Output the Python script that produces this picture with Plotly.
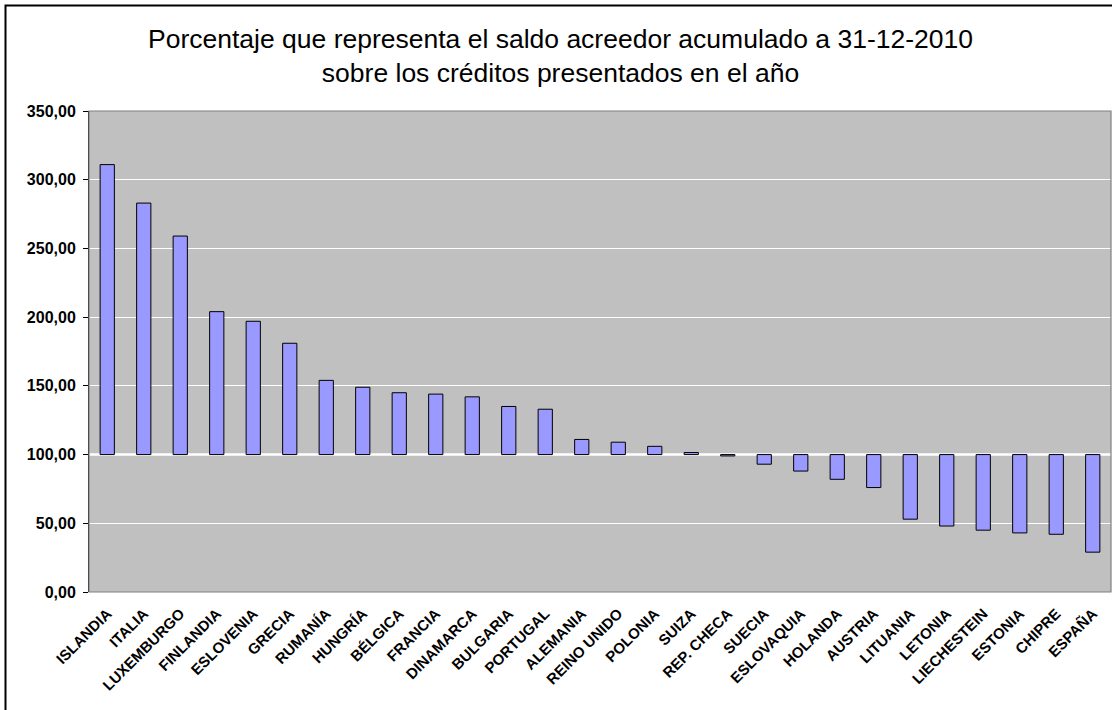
import plotly.graph_objects as go

# Saldo acreedor acumulado / créditos presentados (%), por país
paises = [
    "ISLANDIA", "ITALIA", "LUXEMBURGO", "FINLANDIA", "ESLOVENIA", "GRECIA",
    "RUMANÍA", "HUNGRÍA", "BÉLGICA", "FRANCIA", "DINAMARCA", "BULGARIA",
    "PORTUGAL", "ALEMANIA", "REINO UNIDO", "POLONIA", "SUIZA", "REP. CHECA",
    "SUECIA", "ESLOVAQUIA", "HOLANDA", "AUSTRIA", "LITUANIA", "LETONIA",
    "LIECHESTEIN", "ESTONIA", "CHIPRE", "ESPAÑA",
]
porcentaje = [
    311, 283, 259, 204, 197, 181,
    154, 149, 145, 144, 142, 135,
    133, 111, 109, 106, 101.5, 99,
    93, 88, 82, 76, 53, 48,
    45, 43, 42, 29,
]
base_ref = 100
y_ticks = [0, 50, 100, 150, 200, 250, 300, 350]
titulo = ("Porcentaje que representa el saldo acreedor acumulado a 31-12-2010"
          "<br>sobre los créditos presentados en el año")

W, H = 1112, 710
L, R, T, B = 89, 1, 111, 118
pw, ph = W - L - R, H - T - B

fig = go.Figure(
    go.Bar(
        x=paises,
        y=[v - base_ref for v in porcentaje],
        base=[base_ref] * len(porcentaje),
        marker=dict(color="#9999FF", line=dict(color="#000000", width=1)),
        width=0.39,
        hovertemplate="%{x}: %{customdata:.2f}<extra></extra>",
        customdata=porcentaje,
    )
)

font_family = "Arial, Liberation Sans, sans-serif"

fig.update_layout(
    width=W,
    height=H,
    margin=dict(l=L, r=R, t=T, b=B, pad=0),
    paper_bgcolor="#FFFFFF",
    plot_bgcolor="#C0C0C0",
    separators=",.",
    showlegend=False,
    font=dict(family=font_family, color="#000000"),
    annotations=[
        dict(
            text=titulo,
            xref="paper", yref="paper",
            x=(560 - L) / pw, y=(ph + T - 56) / ph,
            xanchor="center", yanchor="middle",
            showarrow=False,
            align="center",
            font=dict(family=font_family, size=26.5, color="#000000"),
        )
    ],
    xaxis=dict(
        tickangle=-45,
        tickfont=dict(family=font_family, size=15, color="#000000", weight="bold"),
        ticklabelstandoff=9,
        showgrid=False,
        showline=False,
        ticks="",
        fixedrange=True,
    ),
    yaxis=dict(
        range=[0, 350],
        tickvals=y_ticks,
        tickformat=".2f",
        tickfont=dict(family=font_family, size=16, color="#000000", weight="bold"),
        ticklabelstandoff=4,
        ticks="outside",
        ticklen=5,
        tickcolor="#000000",
        showgrid=True,
        gridcolor="#FFFFFF",
        gridwidth=1,
        zeroline=False,
        showline=True,
        linecolor="#000000",
        linewidth=1,
        fixedrange=True,
    ),
    shapes=[
        # línea de referencia en 100
        dict(type="line", xref="paper", yref="y", x0=0, x1=1, y0=base_ref, y1=base_ref,
             line=dict(color="#FFFFFF", width=2.5), layer="below"),
        # marco del área de trazado
        dict(type="rect", xref="paper", yref="paper", x0=0, x1=1, y0=0, y1=1,
             line=dict(color="#808080", width=1.2), layer="above"),
        # borde exterior del gráfico
        dict(type="rect", xref="paper", yref="paper",
             x0=(5.5 - L) / pw, x1=(W + 20 - L) / pw,
             y0=-(B + 20) / ph, y1=(ph + T - 5.5) / ph,
             line=dict(color="#000000", width=2), layer="above"),
    ],
)

fig.write_html("out.html")
